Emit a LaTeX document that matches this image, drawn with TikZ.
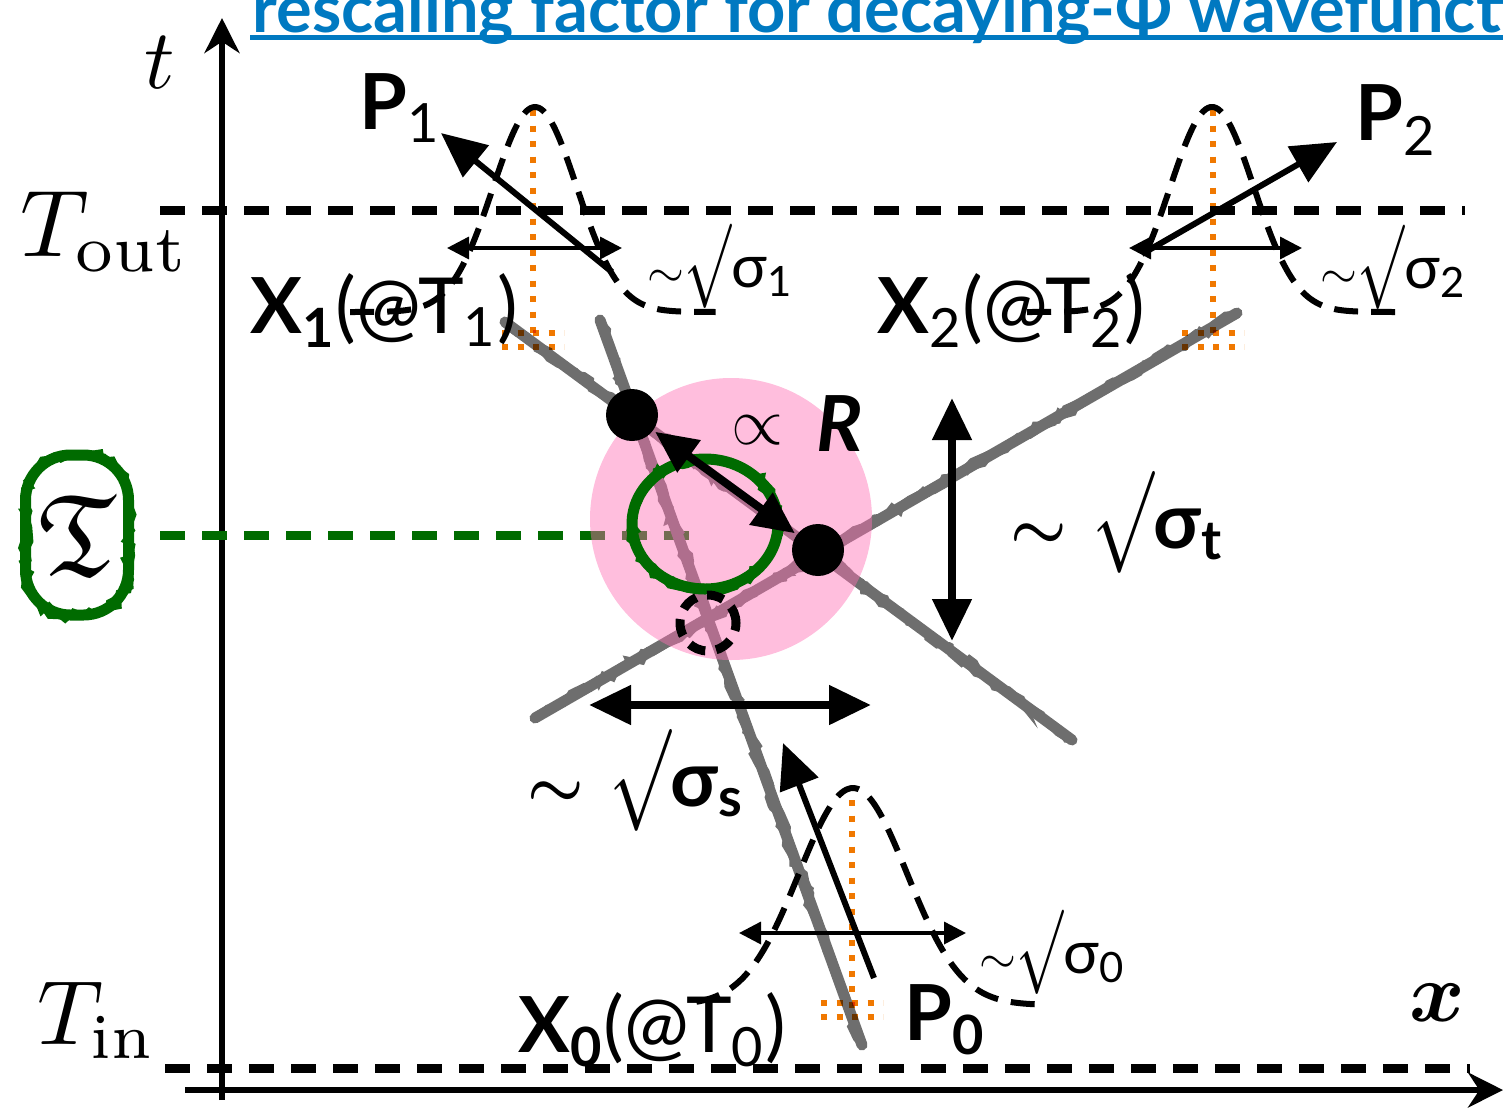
\documentclass[tikz,border=0pt]{standalone}
\usepackage{amssymb}
\usepackage{bm}
\usepackage{graphicx}
\usepackage{fontspec}
\setsansfont{Lato}
\usetikzlibrary{arrows.meta, decorations.pathmorphing}
\definecolor{cgrey}{HTML}{6E6E6E}
\definecolor{cpink}{HTML}{FF6EB4}
\definecolor{cgreen}{HTML}{006B00}
\definecolor{corange}{HTML}{F07800}
\definecolor{cblue}{HTML}{0079C1}
\tikzset{
  every picture/.style={font=\sffamily, line width=0.5mm},
  lvl/.style={dash pattern=on 2.5mm off 1.7mm, line width=0.9mm},
  axis/.style={-{Stealth[length=3.5mm, width=3.5mm]}, line width=0.65mm},
  chalk/.style={draw=#1, line width=1.1mm, line cap=round,
    postaction={draw=#1, sharp corners, line width=0.5mm, decorate, decoration={random steps, segment length=1.2mm, amplitude=0.5mm}},
    postaction={draw=#1, sharp corners, line width=0.5mm, decorate, decoration={random steps, segment length=0.8mm, amplitude=0.55mm}}},
  chalk/.default=cgrey,
  wave/.style={dash pattern=on 2.4mm off 1.3mm, line width=0.6mm},
  spike/.style={draw=corange, line width=0.6mm, dash pattern=on 0.6mm off 0.95mm},
  mom/.style={-{Triangle[length=4.5mm, width=4mm]}, line width=0.6mm},
  spread/.style={{Triangle[length=2.2mm, width=2.2mm]}-{Triangle[length=2.2mm, width=2.2mm]}, line width=0.35mm},
  wide/.style={{Triangle[length=4.2mm, width=3.8mm]}-{Triangle[length=4.2mm, width=3.8mm]}, line width=0.8mm},
  dot/.style={circle, fill=black, inner sep=0pt, minimum size=5.2mm},
  big/.style={font=\sffamily\fontsize{22}{26}\selectfont, inner sep=0pt},
  small/.style={font=\sffamily\fontsize{17}{20}\selectfont, inner sep=0pt},
}
\newcommand{\rt}[2]{\scalebox{#1}[#2]{\normalsize$\surd$}}
\newcommand{\tl}[1]{\scalebox{#1}{\normalsize$\sim$}}
\newcommand{\tlb}[1]{\scalebox{#1}{\normalsize\boldmath$\sim$}}

\begin{document}
\begin{tikzpicture}[x=0.1mm, y=-0.1mm]
  \useasboundingbox (0,0) rectangle (1503,1107);
  \clip (0,0) rectangle (1503,1107);

  % title
  \node[anchor=base west, inner sep=0pt, text=cblue, font=\sffamily\bfseries\fontsize{19}{22}\selectfont] (ttl) at (250,32) {rescaling factor for decaying-Φ wavefunction};
  \draw[cblue, line width=0.5mm] ([yshift=-0.5mm]ttl.base west) -- ([yshift=-0.5mm]ttl.base east);

  % axes
  \coordinate (o1) at (222,1100);
  \coordinate (tt) at (222,18);
  \coordinate (o2) at (185,1090);
  \coordinate (xx) at (1503,1090);
  \draw[axis] (o1) -- (tt);
  \draw[axis] (o2) -- (xx);
  \node[scale=2.4] (t) at (160,63) {$t$};
  \node[scale=2.4] (x) at (1437,1003) {$\bm{x}$};

  % time levels
  \node[scale=2.7] (tout) at (105,232) {$T_{\mathrm{out}}$};
  \node[scale=2.6] (tin) at (97,1020) {$T_{\mathrm{in}}$};
  \coordinate (outL) at (160,210);
  \coordinate (outR) at (1465,210);
  \coordinate (inL) at (165,1068);
  \coordinate (inR) at (1470,1068);
  \draw[lvl] (outL) -- (outR);
  \draw[lvl] (inL) -- (inR);

  % time of the decay
  \node[chalk=cgreen, rounded corners=4.5mm, minimum width=10.3mm, minimum height=16mm, inner sep=0pt] (tau) at (77,535) {\scalebox{3.3}{$\mathfrak{T}$}};
  \coordinate (tauin) at (695,535);
  \draw[lvl, cgreen] ([xshift=2.6mm]tau.east) -- (tauin);

  % trajectories
  \coordinate (a1) at (505,322);
  \coordinate (a2) at (1072,740);
  \coordinate (b1) at (1237,313);
  \coordinate (b2) at (535,718);
  \coordinate (c1) at (600,320);
  \coordinate (c2) at (862,1045);
  \draw[chalk] (a1) -- (a2);
  \draw[chalk] (b1) -- (b2);
  \draw[chalk] (c1) -- (c2);

  \coordinate (rc) at (731,519);
  \fill[cpink, fill opacity=0.45] (rc) circle [radius=14.1mm];

  % narrow packets
  \begin{scope}[blend mode=multiply]
    \foreach \gx/\gb/\gt in {533/340/110, 1213/340/110, 852/1010/800} {
      \draw[spike] (\gx,\gt) -- (\gx,\gb);
      \draw[spike] (\gx-31,\gb-7) -- (\gx+31,\gb-7);
      \draw[spike] (\gx-31,\gb+7) -- (\gx+31,\gb+7);
    }
  \end{scope}

  % wide packets
  \foreach \gx/\gb/\gs/\ga/\gl/\gh in {535/312/42/205/-4.4/4.3, 1212/312/42/205/-4.4/4.4, 853/1005/54/217/-2.9/3.6}
    \draw[wave] plot[domain=\gl:\gh, samples=90, smooth] ({\gx+\gs*\x}, {\gb-\ga*exp(-((\x)*(\x))/2)});

  \coordinate (w1l) at (447,248);
  \coordinate (w1r) at (622,248);
  \coordinate (w2l) at (1129,248);
  \coordinate (w2r) at (1302,248);
  \coordinate (w0l) at (739,933);
  \coordinate (w0r) at (966,933);
  \draw[spread] (w1l) -- (w1r);
  \draw[spread] (w2l) -- (w2r);
  \draw[spread] (w0l) -- (w0r);

  % momenta
  \coordinate (m1a) at (612,272);
  \coordinate (m1b) at (441,133);
  \coordinate (m2a) at (1142,254);
  \coordinate (m2b) at (1337,142);
  \coordinate (m0a) at (874,978);
  \coordinate (m0b) at (783,743);
  \draw[mom] (m1a) -- (m1b);
  \draw[mom] (m2a) -- (m2b);
  \draw[mom] (m0a) -- (m0b);

  % vertex
  \draw[chalk=cgreen] (705,524) ellipse [x radius=7.3mm, y radius=6.5mm];
  \node[dot] (dA) at (632,415) {};
  \node[dot] (dB) at (818,550) {};
  \draw[wide] (dA) -- (dB);
  \node[draw, circle, minimum size=5.6mm, inner sep=0pt, line width=0.9mm, dash pattern=on 1.7mm off 1.1mm] (vx) at (708,623) {};

  \coordinate (vt1) at (952,398);
  \coordinate (vt2) at (952,641);
  \coordinate (vs1) at (589,705);
  \coordinate (vs2) at (871,705);
  \draw[wide] (vt1) -- (vt2);
  \draw[wide] (vs1) -- (vs2);

  % labels
  \node[big] (p1) at (400,108) {\textbf{P}\textsubscript{1}};
  \node[big] (p2) at (1396,120) {\textbf{P}\textsubscript{2}};
  \node[big] (p0) at (945,1020) {\textbf{P\textsubscript{0}}};
  \node[big, anchor=base west] (x1) at (248,333) {\textbf{X\textsubscript{1}}(@T\textsubscript{1})};
  \node[big, anchor=base west] (x2) at (875,333) {\textbf{X}\textsubscript{2}(@T\textsubscript{2})};
  \node[big, anchor=base west] (x0) at (516,1052) {\textbf{X\textsubscript{0}}(@T\textsubscript{0})};
  \node[small, anchor=base west] (s1) at (645,287) {\tl{1.35}\rt{1.6}{2.4}σ\textsubscript{1}};
  \node[small, anchor=base west] (s2) at (1318,288) {\tl{1.35}\rt{1.6}{2.4}σ\textsubscript{2}};
  \node[small, anchor=base west] (s0) at (977,973) {\tl{1.35}\rt{1.6}{2.4}σ\textsubscript{0}};
  \node[scale=1.9] (prop) at (757,430) {$\propto$};
  \node[big] (R) at (840,424) {\textbf{\textit{R}}};
  \node[big, anchor=base west] (st) at (1008,548) {\tlb{1.8}\hspace{2.5mm}\rt{2.1}{2.9}\textbf{σ\textsubscript{t}}};
  \node[big, anchor=base west] (ss) at (525,806) {\tlb{1.8}\hspace{2.5mm}\rt{2.1}{2.9}\textbf{σ\textsubscript{s}}};
\end{tikzpicture}
\end{document}
